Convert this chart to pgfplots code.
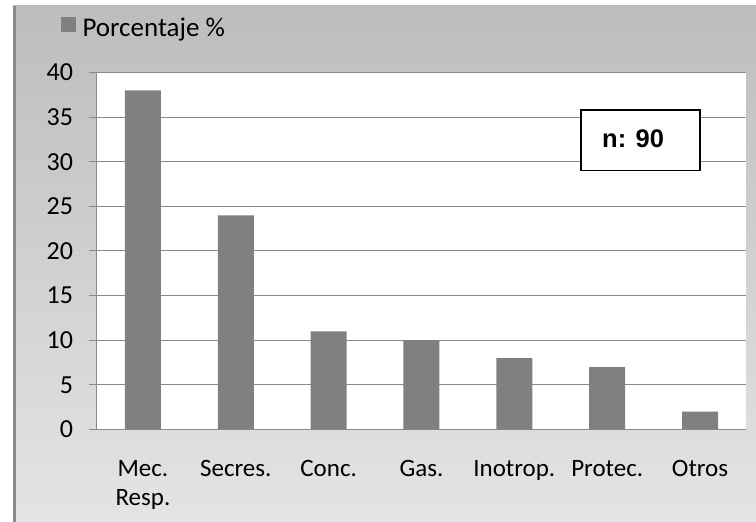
\documentclass[border=0pt]{standalone}
\usepackage{pgfplots}
\pgfplotsset{compat=1.18}
\usepackage{fontspec}
\setmainfont{Carlito}
\setsansfont{Liberation Sans}
\definecolor{barcol}{HTML}{808080}
\definecolor{gridcol}{HTML}{8A8A8A}
\definecolor{bgtop}{HTML}{BDBDBD}
\definecolor{bgbot}{HTML}{E4E4E4}
\definecolor{edgecol}{HTML}{8C8C8C}
\begin{document}
\begin{tikzpicture}
\useasboundingbox (0,0) rectangle (756pt,522pt);
\fill[white] (0,0) rectangle (756pt,522pt);
\shade[top color=bgtop, bottom color=bgbot] (13pt,0) rectangle (756pt,516pt);
\fill[edgecol] (13pt,0) rectangle (16pt,516pt);
\begin{axis}[
  at={(96.5pt,92.5pt)}, anchor=south west,
  scale only axis, width=650pt, height=357pt,
  xmin=-0.5, xmax=6.5, ymin=0, ymax=40,
  ytick={0,5,...,40},
  axis lines*=left,
  axis line style={gridcol, line width=1pt},
  axis background/.style={fill=white},
  ymajorgrids, grid style={gridcol, line width=1pt},
  tick align=outside,
  major tick length=8pt,
  tick style={gridcol, line width=1pt},
  /pgf/number format/assume math mode=true,
  yticklabel style={font=\fontsize{26}{30}\selectfont, xshift=-12pt},
  xtick={0,...,6},
  xticklabels={{Mec.\\Resp.},Secres.,Conc.,Gas.,Inotrop.,Protec.,Otros},
  xtick style={draw=none},
  xticklabel style={font=\fontsize{25}{29}\selectfont, align=center, yshift=-19pt},
  extra x ticks={-0.5,0.5,...,6.5},
  extra x tick labels={,,,,,,,,},
  extra x tick style={tick style={draw=gridcol}},
  legend style={at={(-0.0553,1.1246)}, anchor=west, draw=none, fill=none,
    inner sep=0pt, outer sep=0pt, font=\fontsize{27}{31}\selectfont,
    /tikz/every odd column/.append style={column sep=5pt}},
  legend image code/.code={\fill[barcol] (0pt,-4pt) rectangle (15pt,11pt);},
]
\addplot[ybar, fill=barcol, draw=none, bar width=36pt]
  coordinates {(0,38) (1,24) (2,11) (3,10) (4,8) (5,7) (6,2)};
\addlegendentry{Porcentaje \%}
\end{axis}
\draw[black, line width=1.3pt, fill=white] (581pt,351.5pt) rectangle (700pt,412pt);
\node[anchor=base west, inner sep=0pt, font=\sffamily\bfseries\fontsize{25.5}{30}\selectfont] at (602pt,374.7pt) {n: 90};
\end{tikzpicture}
\end{document}
